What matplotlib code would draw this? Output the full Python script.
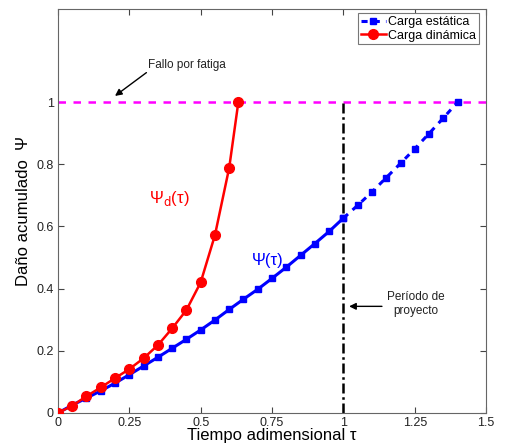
import numpy as np
import matplotlib.pyplot as plt

plt.rcParams['font.family'] = ['Liberation Sans', 'DejaVu Sans']

# Carga estática (static load): tau every 0.05 up to 1.4
tau_est = [0.0, 0.05, 0.10, 0.15, 0.20, 0.25, 0.30, 0.35, 0.40, 0.45, 0.50,
           0.55, 0.60, 0.65, 0.70, 0.75, 0.80, 0.85, 0.90, 0.95, 1.00,
           1.05, 1.10, 1.15, 1.20, 1.25, 1.30, 1.35, 1.40]
psi_est = [0.0, 0.025, 0.048, 0.071, 0.096, 0.123, 0.151, 0.179, 0.208, 0.237, 0.267,
           0.299, 0.333, 0.366, 0.398, 0.433, 0.469, 0.507, 0.545, 0.584, 0.627,
           0.668, 0.711, 0.757, 0.803, 0.850, 0.899, 0.949, 1.0]

# Carga dinámica (dynamic load)
tau_din = [0.0, 0.05, 0.10, 0.15, 0.20, 0.25, 0.30, 0.35, 0.40, 0.45, 0.50,
           0.55, 0.60, 0.632]
psi_din = [0.0, 0.023, 0.054, 0.082, 0.112, 0.141, 0.176, 0.218, 0.272, 0.331, 0.42,
           0.572, 0.789, 1.0]

xticks = [0, 0.25, 0.5, 0.75, 1, 1.25, 1.5]
xticklabels = ['0', '0.25', '0.5', '0.75', '1', '1.25', '1.5']
yticks = [0, 0.2, 0.4, 0.6, 0.8, 1]
yticklabels = ['0', '0.2', '0.4', '0.6', '0.8', '1']

tau_proyecto = 1.0
psi_fallo = 1.0

fig = plt.figure(figsize=(5.08, 4.45), dpi=100)
ax = fig.add_axes([0.114, 0.072, 0.843, 0.908])

blue = '#0000ff'
red = '#ff0000'

# static: solid up to design period, dashed beyond
n1 = tau_est.index(1.0) + 1
ax.plot(tau_est[:n1], psi_est[:n1], '-', color=blue, lw=2.2, marker='s', ms=5, zorder=3)
ax.plot(tau_est[n1 - 1:], psi_est[n1 - 1:], '--', color=blue, lw=2.2, marker='s', ms=5,
        dashes=(2, 2), zorder=3)
ax.plot(tau_din, psi_din, '-', color=red, lw=1.8, marker='o', ms=7, zorder=4)

# failure level and design period
ax.axhline(psi_fallo, color='#ff00ff', lw=1.8, ls=(0, (3, 3)), zorder=2)
ax.plot([tau_proyecto, tau_proyecto], [0, psi_fallo], color='black', lw=1.8,
        ls=(0, (4, 1.5, 1, 1.5)), zorder=2)

# legend proxies
h1, = ax.plot([], [], color=blue, lw=2.2, marker='s', ms=5, dashes=(2, 2))
h2, = ax.plot([], [], color=red, lw=1.8, marker='o', ms=7)
leg = ax.legend([h1, h2], ['Carga estática', 'Carga dinámica'], loc='upper right',
                bbox_to_anchor=(0.988, 0.995), fontsize=9, handlelength=2.0,
                handletextpad=0.2, borderpad=0.2, labelspacing=0.15,
                fancybox=False, framealpha=1, borderaxespad=0.2)
leg.get_frame().set_edgecolor('#777777')
leg.get_frame().set_linewidth(0.8)

# annotations
arrow = dict(arrowstyle='-|>', color='black', lw=1, mutation_scale=10,
             shrinkA=0, shrinkB=0)
ax.annotate('', xy=(0.20, 1.02), xytext=(0.31, 1.095), arrowprops=arrow)
ax.text(0.315, 1.12, 'Fallo por fatiga', fontsize=8.5, color='#222222',
        va='center', ha='left')
ax.annotate('', xy=(1.02, 0.343), xytext=(1.135, 0.343), arrowprops=arrow)
ax.text(1.255, 0.35, 'Período de\nproyecto', fontsize=8.5, color='#222222',
        va='center', ha='center')
ax.text(0.39, 0.69, 'Ψ$_{\\rm d}$(τ)', color=red, fontsize=12,
        ha='center', va='center')
ax.text(0.735, 0.49, 'Ψ(τ)', color=blue, fontsize=12,
        ha='center', va='center')

ax.set_xlim(0, 1.5)
ax.set_ylim(0, 1.3)
ax.set_xticks(xticks)
ax.set_xticklabels(xticklabels)
ax.set_yticks(yticks)
ax.set_yticklabels(yticklabels)
ax.tick_params(direction='in', top=True, right=True, labelsize=9, length=4,
               colors='#444444', labelcolor='#222222', pad=3)
for s in ax.spines.values():
    s.set_color('#666666')
    s.set_linewidth(0.8)

ax.set_xlabel('Tiempo adimensional τ', fontsize=12, labelpad=-1)
ax.set_ylabel('Daño acumulado  Ψ', fontsize=12, labelpad=4)

fig.savefig('out.png', dpi=100)
